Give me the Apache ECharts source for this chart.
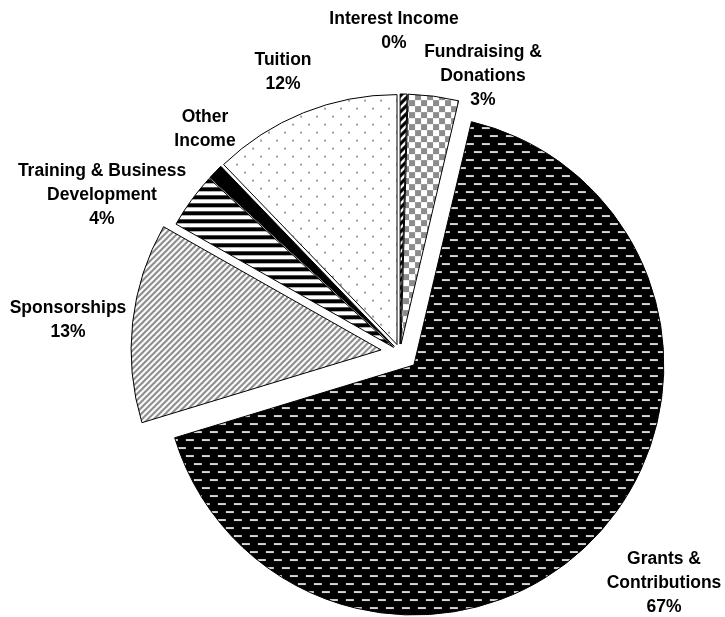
<!DOCTYPE html>
<html>
<head>
<meta charset="utf-8">
<script src="https://cdn.jsdelivr.net/npm/echarts@6/dist/echarts.min.js"></script>
<style>
    html, body { margin: 0; padding: 0; background: #fff; }
    #chart { width: 725px; height: 617px; }
</style>
</head>
<body>
<div id="chart"></div>
<script>
    // data, clockwise from 12 o'clock
    var names = ['Interest Income', 'Fundraising & Donations', 'Grants & Contributions', 'Sponsorships',
                 'Training & Business Development', 'Other Income', 'Tuition'];
    var values = [0.45, 3.25, 66.6, 12.9, 3.6, 1.0, 12.2];
    var labelText = ['Interest Income', 'Fundraising &\nDonations', 'Grants &\nContributions', 'Sponsorships',
                     'Training & Business\nDevelopment', 'Other\nIncome', 'Tuition'];
    var showPercent = [true, true, true, true, true, false, true];
    var explodedBig = [false, false, true, true, false, false, false];

    // label anchors (px), same order as names
    var labelPos = [[394, 31], [483, 76], [664, 583], [68, 320], [102, 195], [205, 129], [283, 72]];

    function makePattern(w, h, draw) {
        var c = document.createElement('canvas');
        c.width = w; c.height = h;
        var ctx = c.getContext('2d');
        draw(ctx, w, h);
        return { image: c, repeat: 'repeat' };
    }

    function diag(ctx, w, h, color, lw) {
        ctx.strokeStyle = color;
        ctx.lineWidth = lw;
        for (var k = -w; k <= 2 * w; k += w) {
            ctx.beginPath();
            ctx.moveTo(k - 1, h + 1);
            ctx.lineTo(k + w + 1, -1);
            ctx.stroke();
        }
    }

    var fills = [
        makePattern(8, 8, function (ctx, w, h) {
            ctx.fillStyle = '#fff'; ctx.fillRect(0, 0, w, h);
            diag(ctx, w, h, '#000', 3.2);
        }),
        makePattern(12, 12, function (ctx) {
            ctx.fillStyle = '#fff'; ctx.fillRect(0, 0, 12, 12);
            ctx.fillStyle = '#8c8c8c';
            ctx.fillRect(0, 0, 6, 6); ctx.fillRect(6, 6, 6, 6);
        }),
        makePattern(16, 16, function (ctx) {
            ctx.fillStyle = '#000'; ctx.fillRect(0, 0, 16, 16);
            ctx.fillStyle = '#d6d6d6';
            ctx.fillRect(4, 2, 8, 2);
            ctx.fillRect(12, 10, 4, 2); ctx.fillRect(0, 10, 4, 2);
        }),
        makePattern(6, 6, function (ctx, w, h) {
            ctx.fillStyle = '#fff'; ctx.fillRect(0, 0, w, h);
            diag(ctx, w, h, '#8a8a8a', 2);
        }),
        makePattern(8, 8, function (ctx) {
            ctx.fillStyle = '#fff'; ctx.fillRect(0, 0, 8, 8);
            ctx.fillStyle = '#000'; ctx.fillRect(0, 0, 8, 4);
        }),
        '#000',
        makePattern(16, 16, function (ctx) {
            ctx.fillStyle = '#fff'; ctx.fillRect(0, 0, 16, 16);
            ctx.fillStyle = '#a0a0a0';
            ctx.fillRect(7, 3, 2, 2); ctx.fillRect(15, 11, 1, 2); ctx.fillRect(0, 11, 1, 2);
        })
    ];

    function buildData(big) {
        return names.map(function (n, i) {
            var visible = explodedBig[i] === big;
            return {
                name: n,
                value: values[i],
                selected: true,
                itemStyle: visible
                    ? { color: fills[i], borderColor: '#000', borderWidth: 1 }
                    : { color: 'transparent', borderWidth: 0 }
            };
        });
    }

    var total = values.reduce(function (a, b) { return a + b; }, 0);

    var labels = names.map(function (n, i) {
        var txt = labelText[i];
        if (showPercent[i]) {
            txt += '\n' + Math.round(values[i] / total * 100) + '%';
        }
        return {
            type: 'text',
            x: labelPos[i][0],
            y: labelPos[i][1],
            z: 100,
            silent: true,
            style: {
                text: txt,
                fill: '#000',
                font: 'bold 17.5px "Liberation Sans", Arial, sans-serif',
                lineHeight: 24,
                align: 'center',
                verticalAlign: 'middle'
            }
        };
    });

    var chart = echarts.init(document.getElementById('chart'), null, { renderer: 'canvas' });

    var pieBase = {
        type: 'pie',
        center: [400, 352],
        radius: 250,
        startAngle: 90,
        clockwise: true,
        selectedMode: 'multiple',
        emphasis: { disabled: true },
        label: { show: false },
        labelLine: { show: false }
    };

    var option = {
        animation: false,
        backgroundColor: '#fff',
        graphic: labels,
        series: [
            Object.assign({}, pieBase, { selectedOffset: 19, data: buildData(true) }),
            Object.assign({}, pieBase, { selectedOffset: 8, data: buildData(false) })
        ]
    };

    chart.setOption(option);
</script>
</body>
</html>
